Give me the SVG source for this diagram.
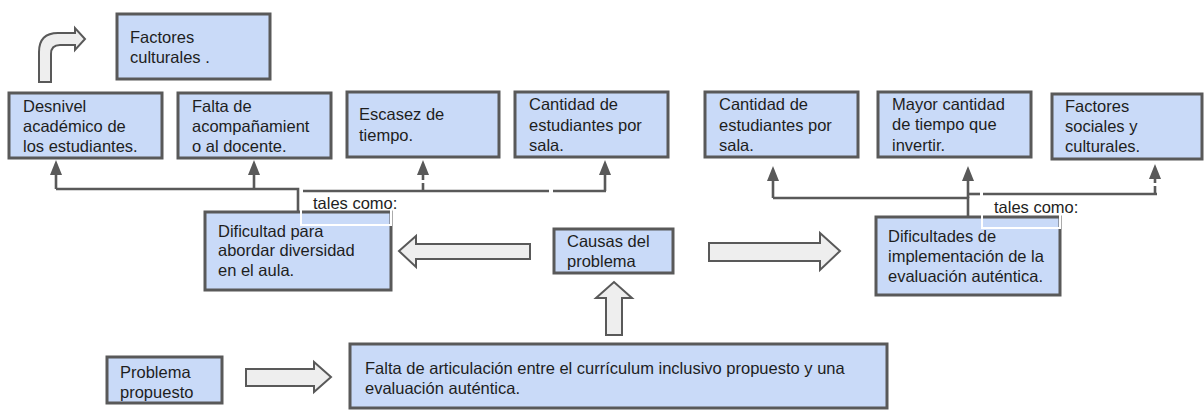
<svg xmlns="http://www.w3.org/2000/svg" width="1204" height="410" viewBox="0 0 1204 410">
<style>
.box{fill:#c9daf8;stroke:#595959;stroke-width:3}
.t{font-family:"Liberation Sans",Arial,sans-serif;font-size:16.5px;fill:#1e1e1e}
.con{stroke:#595959;stroke-width:2.6;fill:none}
.dash{stroke-dasharray:8 3}
.blk{fill:#eeeeee;stroke:#595959;stroke-width:2}
.wb{fill:none;stroke:#ffffff;stroke-width:2}
</style>
<defs>
<marker id="ah" markerUnits="userSpaceOnUse" markerWidth="16" markerHeight="12" refX="0" refY="6" orient="auto" viewBox="0 0 16 12">
<path d="M0,0 L15,6 L0,12 Z" fill="#595959"/>
</marker>
</defs>
<rect width="1204" height="410" fill="#ffffff"/>

<g id="curved-arrow">
<path class="blk" d="M39,82 L39,52 Q39,33 58,33 L75,33 L75,28 L85,39 L75,50 L75,45 L60,45 Q51,45 51,54 L51,82 Z"/>
</g>

<g id="factores-culturales">
<rect class="box" x="117" y="14" width="153" height="65"/>
<text class="t" x="130" y="43">Factores</text>
<text class="t" x="130" y="63">culturales .</text>
</g>

<g id="desnivel">
<rect class="box" x="9" y="93" width="153" height="65"/>
<text class="t" x="23" y="112">Desnivel</text>
<text class="t" x="23" y="132">académico de</text>
<text class="t" x="23" y="152">los estudiantes.</text>
</g>

<g id="falta-acompanamiento">
<rect class="box" x="178" y="93" width="153" height="65"/>
<text class="t" x="192" y="112">Falta de</text>
<text class="t" x="192" y="132">acompañamient</text>
<text class="t" x="192" y="152">o al docente.</text>
</g>

<g id="escasez">
<rect class="box" x="347" y="92" width="152" height="65"/>
<text class="t" x="359" y="120">Escasez de</text>
<text class="t" x="359" y="141">tiempo.</text>
</g>

<g id="cantidad-left">
<rect class="box" x="515" y="92" width="153" height="65"/>
<text class="t" x="529" y="110">Cantidad de</text>
<text class="t" x="529" y="131">estudiantes por</text>
<text class="t" x="529" y="151">sala.</text>
</g>

<g id="cantidad-right">
<rect class="box" x="705" y="92" width="153" height="65"/>
<text class="t" x="719" y="110">Cantidad de</text>
<text class="t" x="719" y="131">estudiantes por</text>
<text class="t" x="719" y="151">sala.</text>
</g>

<g id="mayor-cantidad">
<rect class="box" x="878" y="92" width="153" height="65"/>
<text class="t" x="892" y="110">Mayor cantidad</text>
<text class="t" x="892" y="130">de tiempo que</text>
<text class="t" x="892" y="151">invertir.</text>
</g>

<g id="factores-sociales">
<rect class="box" x="1052" y="94" width="150" height="65"/>
<text class="t" x="1065" y="112">Factores</text>
<text class="t" x="1065" y="132">sociales y</text>
<text class="t" x="1065" y="152">culturales.</text>
</g>

<g id="dificultad-diversidad">
<rect class="box" x="205" y="212" width="186" height="78"/>
<text class="t" x="218" y="237">Dificultad para</text>
<text class="t" x="218" y="256">abordar diversidad</text>
<text class="t" x="218" y="276">en el aula.</text>
</g>

<g id="causas">
<rect class="box" x="554" y="229" width="119" height="44"/>
<text class="t" x="567" y="247">Causas del</text>
<text class="t" x="567" y="267">problema</text>
</g>

<g id="dificultades-implementacion">
<rect class="box" x="876" y="217" width="184" height="78"/>
<text class="t" x="888" y="242">Dificultades de</text>
<text class="t" x="888" y="262">implementación de la</text>
<text class="t" x="888" y="282">evaluación auténtica.</text>
</g>

<g id="problema-propuesto">
<rect class="box" x="107" y="357" width="115" height="46"/>
<text class="t" x="120" y="378">Problema</text>
<text class="t" x="120" y="398">propuesto</text>
</g>

<g id="falta-articulacion">
<rect class="box" x="350" y="344" width="537" height="64"/>
<text class="t" x="365" y="374">Falta de articulación entre el currículum inclusivo propuesto y una</text>
<text class="t" x="365" y="394">evaluación auténtica.</text>
</g>

<g id="tales-como-left">
<rect class="wb" x="301" y="193" width="90" height="32"/>
<text class="t" x="313" y="209">tales como:</text>
</g>

<g id="tales-como-right">
<rect class="wb" x="982" y="196" width="78" height="32"/>
<text class="t" x="994" y="213">tales como:</text>
</g>

<g id="connectors">
<polyline class="con" points="56,189 298,189 298,212"/>
<line class="con" x1="56" y1="189" x2="56" y2="175" marker-end="url(#ah)"/>
<line class="con" x1="254" y1="189" x2="254" y2="175" marker-end="url(#ah)"/>
<line class="con" x1="303" y1="191" x2="549" y2="191"/>
<line class="con" x1="553" y1="191" x2="606" y2="191"/>
<line class="con dash" x1="423" y1="191" x2="423" y2="175" marker-end="url(#ah)"/>
<line class="con" x1="605" y1="191" x2="605" y2="175" marker-end="url(#ah)"/>

<polyline class="con" points="773,198 968,198 968,217"/>
<line class="con" x1="773" y1="198" x2="773" y2="181" marker-end="url(#ah)"/>
<line class="con" x1="968" y1="198" x2="968" y2="181" marker-end="url(#ah)"/>
<line class="con" x1="967" y1="194" x2="980" y2="194"/>
<line class="con" x1="983" y1="194" x2="1157" y2="194"/>
<line class="con dash" x1="1155" y1="194" x2="1155" y2="179" marker-end="url(#ah)"/>

<polygon class="blk" points="530,244 416,244 416,236 399,251 416,267 416,259 530,259"/>
<polygon class="blk" points="709,243 820,243 820,233 840,251 820,270 820,261 709,261"/>
<polygon class="blk" points="606,335 606,298 596,298 614,282 632,298 622,298 622,335"/>
<polygon class="blk" points="246,369 314,369 314,362 331,377 314,392 314,386 246,386"/>
</g>
</svg>
